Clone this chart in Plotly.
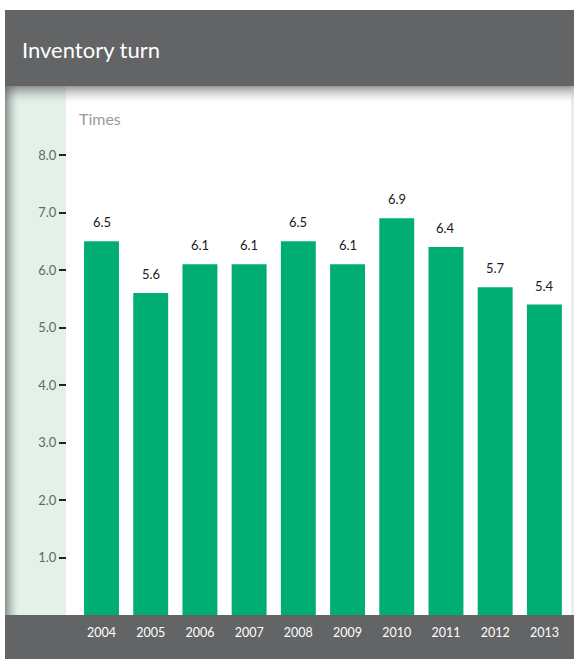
import plotly.graph_objects as go

years = ["2004", "2005", "2006", "2007", "2008", "2009", "2010", "2011", "2012", "2013"]
values = [6.5, 5.6, 6.1, 6.1, 6.5, 6.1, 6.9, 6.4, 5.7, 5.4]
tick_vals = [1, 2, 3, 4, 5, 6, 7, 8]
tick_text = ["1.0", "2.0", "3.0", "4.0", "5.0", "6.0", "7.0", "8.0"]
title_text = "Inventory turn"
unit_text = "Times"

W, H = 574, 659
FONT = "Lato, 'Open Sans', sans-serif"
GREEN = "#00ae73"
DARK = "#636466"

def px(x):
    return x / W

def py(y):
    return 1 - y / H

fig = go.Figure()
fig.add_trace(go.Bar(
    x=years, y=values, marker=dict(color=GREEN, line=dict(width=0)),
    width=0.71, hoverinfo="skip",
))

shapes = []
# header
shapes.append(dict(type="rect", xref="paper", yref="paper", x0=px(5), x1=px(574), y0=py(86), y1=py(10),
                   fillcolor=DARK, line=dict(width=0), layer="below"))
# bottom bar
shapes.append(dict(type="rect", xref="paper", yref="paper", x0=px(5), x1=px(574), y0=py(659), y1=py(615),
                   fillcolor=DARK, line=dict(width=0), layer="below"))
# green side panel
shapes.append(dict(type="rect", xref="paper", yref="paper", x0=px(5), x1=px(66), y0=py(615), y1=py(86),
                   fillcolor="#e4f1e9", line=dict(width=0), layer="below"))
# left shadow on panel
for i in range(14):
    op = 0.55 * (1 - i / 14) ** 1.6
    shapes.append(dict(type="rect", xref="paper", yref="paper", x0=px(5 + i), x1=px(6 + i), y0=py(615), y1=py(86),
                       fillcolor=f"rgba(70,75,72,{op:.3f})", line=dict(width=0), layer="below"))
# header drop shadow
for i in range(18):
    op = 0.6 * (1 - i / 18) ** 1.8
    shapes.append(dict(type="rect", xref="paper", yref="paper", x0=px(5), x1=px(574), y0=py(87 + i), y1=py(86 + i),
                       fillcolor=f"rgba(90,90,92,{op:.3f})", line=dict(width=0), layer="below"))
# right faint edge
shapes.append(dict(type="rect", xref="paper", yref="paper", x0=px(571), x1=px(574), y0=py(615), y1=py(86),
                   fillcolor="rgba(200,200,200,0.35)", line=dict(width=0), layer="below"))

annotations = []
annotations.append(dict(xref="paper", yref="paper", x=px(20), y=py(49), text=title_text, showarrow=False,
                        xanchor="left", yanchor="middle", font=dict(family=FONT, size=22, color="white")))
annotations.append(dict(xref="paper", yref="paper", x=px(77), y=py(118), text=unit_text, showarrow=False,
                        xanchor="left", yanchor="middle", font=dict(family=FONT, size=16, color="#9a9a9a")))
for i, v in enumerate(values):
    annotations.append(dict(x=i, y=v, xref="x", yref="y", text=f"{v:.1f}", showarrow=False,
                            yanchor="middle", yshift=19, font=dict(family=FONT, size=13, color="#1a1a1a")))

fig.update_layout(
    width=W, height=H,
    margin=dict(l=0, r=0, t=0, b=0),
    paper_bgcolor="white", plot_bgcolor="rgba(0,0,0,0)",
    showlegend=False, bargap=0.29,
    shapes=shapes, annotations=annotations,
    xaxis=dict(domain=[px(76.9), px(569)], range=[-0.5, 9.5], type="category",
               showgrid=False, zeroline=False, showline=False,
               ticks="outside", ticklen=6, tickcolor="rgba(0,0,0,0)",
               tickfont=dict(family=FONT, size=12.5, color="white")),
    yaxis=dict(domain=[py(615), py(126.25)], range=[0, 8.5], anchor="free", position=px(66),
               tickvals=tick_vals, ticktext=tick_text, showgrid=False, zeroline=False, showline=False,
               ticks="outside", ticklen=7, tickwidth=1.5, tickcolor="#222",
               tickfont=dict(family=FONT, size=13, color="#666")),
)

fig.write_html("out.html")
